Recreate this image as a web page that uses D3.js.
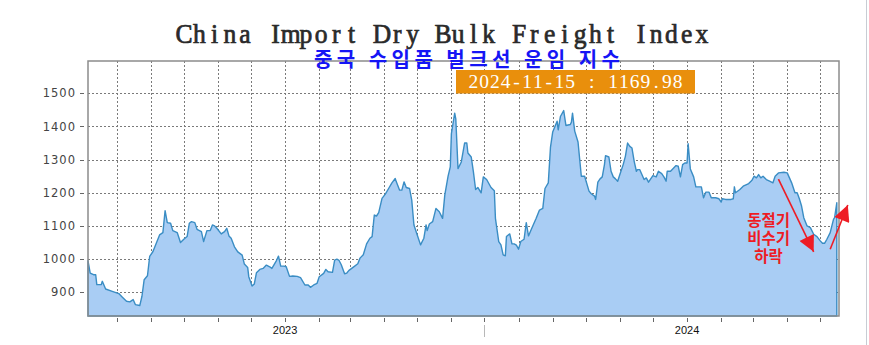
<!DOCTYPE html>
<html>
<head>
<meta charset="utf-8">
<title>China Import Dry Bulk Freight Index</title>
<script src="https://d3js.org/d3.v7.min.js"></script>
<style>
  body { margin: 0; background: #fff; }
</style>
</head>
<body>
<div id="chart"></div>
<script>
// series: day number counted from the first point, and the index value
const startDate = new Date(Date.UTC(2022, 6, 6));
const lastDay = 682;

const days = [
  0, 2, 5, 7, 8, 12, 13, 16, 22, 28,
  31, 35, 38, 41, 43, 47, 49, 51, 54, 56,
  59, 62, 65, 68, 70, 72, 75, 77, 81, 84,
  87, 90, 92, 94, 97, 99, 103, 105, 108, 111,
  113, 115, 117, 121, 124, 126, 128, 130, 133, 136,
  140, 142, 145, 146, 149, 151, 153, 156, 159, 162,
  165, 167, 171, 173, 175, 178, 180, 183, 186, 190,
  193, 197, 200, 202, 205, 208, 210, 214, 216, 218,
  222, 224, 226, 228, 230, 233, 235, 237, 241, 245,
  247, 250, 253, 256, 258, 260, 262, 264, 267, 270,
  273, 276, 279, 280, 283, 285, 287, 289, 292, 294,
  296, 299, 302, 305, 307, 308, 310, 313, 316, 319,
  322, 324, 327, 329, 330, 333, 334, 336, 339, 342,
  344, 345, 348, 350, 352, 354, 357, 359, 362, 366,
  369, 370, 373, 375, 377, 379, 380, 383, 385, 387,
  389, 391, 393, 396, 398, 400, 403, 407, 410, 413,
  415, 418, 420, 422, 426, 427, 429, 432, 434, 438,
  439, 440, 442, 445, 448, 451, 455, 457, 460, 461,
  463, 465, 467, 469, 470, 473, 475, 477, 479, 481,
  483, 486, 488, 490, 492, 494, 496, 498, 499, 501,
  503, 505, 507, 509, 511, 513, 516, 518, 521, 523,
  525, 526, 529, 531, 534, 536, 538, 540, 542, 544,
  545, 546, 547, 550, 552, 554, 557, 559, 561, 564,
  566, 569, 570, 573, 575, 576, 579, 584, 586, 587,
  588, 592, 595, 600, 603, 605, 607, 609, 611, 613,
  616, 619, 622, 624, 627, 632, 635, 639, 642, 644,
  646, 648, 650, 653, 656, 659, 662, 665, 667, 669,
  671, 674, 677, 678, 680
];

const values = [
  995, 958, 953, 953, 923, 923, 933, 910, 903, 896,
  886, 873, 871, 878, 863, 860, 888, 938, 950, 1008,
  1023, 1048, 1073, 1080, 1146, 1110, 1108, 1086, 1080, 1050,
  1060, 1068, 1108, 1113, 1110, 1090, 1083, 1053, 1086, 1086,
  1103, 1100, 1093, 1076, 1083, 1093, 1070, 1063, 1037, 1022,
  1012, 985, 975, 947, 919, 925, 959, 969, 972, 982,
  977, 972, 995, 1009, 979, 979, 977, 948, 949, 948,
  944, 922, 922, 915, 922, 927, 947, 957, 969, 962,
  960, 997, 1000, 996, 983, 956, 958, 966, 976, 986,
  1003, 1013, 1046, 1063, 1068, 1133, 1130, 1140, 1183, 1196,
  1213, 1230, 1243, 1233, 1208, 1208, 1233, 1216, 1213, 1178,
  1103, 1073, 1043, 1063, 1103, 1086, 1106, 1113, 1153, 1143,
  1123, 1193, 1250, 1278, 1378, 1440, 1423, 1273, 1293, 1350,
  1350, 1320, 1308, 1263, 1210, 1216, 1200, 1248, 1240, 1216,
  1206, 1123, 1053, 1043, 1013, 1010, 1068, 1076, 1046, 1046,
  1042, 1030, 1053, 1060, 1110, 1070, 1093, 1123, 1148, 1153,
  1213, 1230, 1338, 1383, 1416, 1390, 1430, 1448, 1403, 1406,
  1413, 1440, 1386, 1353, 1250, 1250, 1205, 1197, 1190, 1180,
  1232, 1242, 1248, 1285, 1312, 1308, 1265, 1248, 1242, 1235,
  1255, 1285, 1310, 1350, 1340, 1335, 1295, 1265, 1270, 1270,
  1255, 1240, 1245, 1232, 1242, 1252, 1248, 1265, 1258, 1248,
  1235, 1265, 1265, 1272, 1282, 1280, 1248, 1285, 1290, 1290,
  1348, 1310, 1272, 1248, 1218, 1218, 1218, 1185, 1202, 1202,
  1185, 1185, 1185, 1182, 1172, 1182, 1180, 1180, 1182, 1218,
  1200, 1210, 1220, 1228, 1238, 1250, 1245, 1255, 1245, 1250,
  1240, 1235, 1230, 1250, 1260, 1262, 1260, 1230, 1200, 1200,
  1182, 1160, 1125, 1100, 1095, 1075, 1068, 1055, 1048, 1048,
  1060, 1080, 1120, 1125, 1169.98
];

const yTicks = [900, 1000, 1100, 1200, 1300, 1400, 1500];
const yDomain = [828.5, 1597.4];
const yearLabels = ["2023", "2024"];

const titleText = "China Import Dry Bulk Freight Index";
const subtitleText = "중국 수입품 벌크선 운임 지수";
const lastLabel = "2024-11-15 : 1169.98";

// note and arrows, in data units (day, value)
const noteLines = ["동절기", "비수기", "하락"];
const noteAt = [618, 1118];
const arrows = [
  [[627, 1241], [659, 1022]],
  [[674, 1030], [690, 1163]]
];

let margin = {top: 61, right: 30, bottom: 29, left: 88};
let w = 869 - margin.left - margin.right;
let h = 345 - margin.top - margin.bottom;

let root = d3.select("#chart")
  .append("svg")
    .attr("width", 869)
    .attr("height", 345)
    .style("display", "block");

root.append("rect")
    .attr("width", 869)
    .attr("height", 345)
    .attr("fill", "#fff");

root.append("line")
    .attr("x1", 866.5).attr("x2", 866.5)
    .attr("y1", 0).attr("y2", 345)
    .attr("stroke", "#c8ccd4");

let svg = root.append("g")
    .attr("transform", "translate(" + margin.left + "," + margin.top + ")");

let dayDate = d => d3.utcDay.offset(startDate, d);

let xScale = d3.scaleUtc()
    .domain([startDate, dayDate(lastDay)])
    .range([0, w]);
let yScale = d3.scaleLinear()
    .domain(yDomain)
    .range([h, 0]);

let dataset = days.map((d, i) => ({date: dayDate(d), value: values[i]}));
let months = d3.utcMonth.range(dayDate(1), dayDate(lastDay));

// grid
svg.append("g")
  .selectAll("line")
  .data(yTicks)
  .enter()
  .append("line")
    .attr("x1", 0).attr("x2", w)
    .attr("y1", d => Math.round(yScale(d)) + 0.5)
    .attr("y2", d => Math.round(yScale(d)) + 0.5)
    .attr("stroke", "#7a7a7a")
    .attr("stroke-dasharray", "2,2");

svg.append("g")
  .selectAll("line")
  .data(months)
  .enter()
  .append("line")
    .attr("x1", d => Math.round(xScale(d)) + 0.5)
    .attr("x2", d => Math.round(xScale(d)) + 0.5)
    .attr("y1", 0).attr("y2", h)
    .attr("stroke", "#7a7a7a")
    .attr("stroke-dasharray", "2,2");

// area
let area = d3.area()
    .x(d => xScale(d.date))
    .y0(h)
    .y1(d => yScale(d.value));

svg.append("path")
    .datum(dataset)
    .attr("d", area)
    .attr("fill", "#a9cdf4")
    .attr("stroke", "#3a8dc4")
    .attr("stroke-width", 1.4)
    .attr("stroke-linejoin", "round");

// frame
svg.append("rect")
    .attr("x", 0).attr("y", 0)
    .attr("width", w).attr("height", h)
    .attr("fill", "none")
    .attr("stroke", "#8c8c8c")
    .attr("stroke-width", 1.5);

// y ticks and labels
let yAxis = svg.append("g");
yAxis.selectAll("line")
  .data(yTicks)
  .enter()
  .append("line")
    .attr("x1", -8).attr("x2", -4)
    .attr("y1", d => Math.round(yScale(d)) + 0.5)
    .attr("y2", d => Math.round(yScale(d)) + 0.5)
    .attr("stroke", "#666");
yAxis.selectAll("text")
  .data(yTicks)
  .enter()
  .append("text")
    .attr("x", -12)
    .attr("y", d => yScale(d))
    .attr("dy", "0.36em")
    .attr("text-anchor", "end")
    .attr("font-family", "DejaVu Sans, sans-serif")
    .attr("font-size", "11.5px")
    .attr("letter-spacing", "1px")
    .attr("fill", "#444")
    .text(d => d);

// x ticks and year labels
let xAxis = svg.append("g");
xAxis.selectAll("line")
  .data(months)
  .enter()
  .append("line")
    .attr("x1", d => Math.round(xScale(d)) + 0.5)
    .attr("x2", d => Math.round(xScale(d)) + 0.5)
    .attr("y1", h + 2).attr("y2", h + 6)
    .attr("stroke", "#666");

let midYear = new Date(Date.UTC(2023, 6, 1));
xAxis.append("line")
    .attr("x1", Math.round(xScale(midYear)) + 0.5)
    .attr("x2", Math.round(xScale(midYear)) + 0.5)
    .attr("y1", h + 9).attr("y2", h + 21)
    .attr("stroke", "#b8b8b8");

xAxis.selectAll("text")
  .data(yearLabels)
  .enter()
  .append("text")
    .attr("x", d => xScale(new Date(Date.UTC(+d, 0, 1))))
    .attr("y", h + 18)
    .attr("text-anchor", "middle")
    .attr("font-family", "Liberation Sans, Arial, sans-serif")
    .attr("font-size", "11px")
    .attr("fill", "#111")
    .text(d => d);

// serif text set on a fixed character pitch (one text element, squeezed by sx)
function pitchText(parent, str, x0, pitch, y, size, fill, sx) {
  let font = "Liberation Serif, serif";
  let probe = parent.append("text")
      .attr("font-family", font)
      .attr("font-size", size + "px");
  let widths = str.split("").map(ch => {
    probe.text(ch === " " ? "n" : ch);
    return probe.node().getComputedTextLength();
  });
  probe.remove();
  let xs = widths.map((cw, i) => ((x0 + (i + 0.5) * pitch) / sx - cw / 2).toFixed(2));
  return parent.append("text")
      .attr("transform", "scale(" + sx + ",1)")
      .attr("x", xs.join(" "))
      .attr("y", y)
      .attr("font-family", font)
      .attr("font-size", size + "px")
      .attr("fill", fill)
      .text(str);
}

// titles
pitchText(root, titleText, 176.5, 533 / titleText.length, 43.5, 27.5, "#2a2a2a", 0.93)
    .attr("stroke", "#2a2a2a")
    .attr("stroke-width", 0.75);

root.append("text")
    .attr("x", 314)
    .attr("y", 66.5)
    .attr("textLength", 306)
    .attr("font-family", "Noto Sans CJK KR, sans-serif")
    .attr("font-weight", "bold")
    .attr("font-size", "20px")
    .attr("fill", "#1515f5")
    .text(subtitleText);

root.append("rect")
    .attr("x", 456).attr("y", 70)
    .attr("width", 239).attr("height", 23.5)
    .attr("fill", "#e98f0c");

pitchText(root, lastLabel, 468, 215 / lastLabel.length, 88.3, 19.5, "#fff", 1);

// note and arrows
let red = "#ee1c24";
root.append("defs").append("marker")
    .attr("id", "head")
    .attr("viewBox", "0 0 10 10")
    .attr("refX", 10).attr("refY", 5)
    .attr("markerUnits", "userSpaceOnUse")
    .attr("markerWidth", 20).attr("markerHeight", 16)
    .attr("orient", "auto")
  .append("path")
    .attr("d", "M0,0L10,5L0,10z")
    .attr("fill", red);

svg.selectAll(".arrow")
  .data(arrows)
  .enter()
  .append("line")
    .attr("class", "arrow")
    .attr("x1", d => xScale(dayDate(d[0][0])))
    .attr("y1", d => yScale(d[0][1]))
    .attr("x2", d => xScale(dayDate(d[1][0])))
    .attr("y2", d => yScale(d[1][1]))
    .attr("stroke", red)
    .attr("stroke-width", 1.6)
    .attr("marker-end", "url(#head)");

svg.append("text")
    .attr("x", xScale(dayDate(noteAt[0])))
    .attr("y", yScale(noteAt[1]))
    .attr("text-anchor", "middle")
    .attr("font-family", "Noto Sans CJK KR, sans-serif")
    .attr("font-size", "15.5px")
    .attr("font-weight", "bold")
    .attr("fill", red)
  .selectAll("tspan")
  .data(noteLines)
  .enter()
  .append("tspan")
    .attr("x", xScale(dayDate(noteAt[0])))
    .attr("dy", (d, i) => i === 0 ? "0.36em" : "18.3px")
    .text(d => d);
</script>
</body>
</html>
